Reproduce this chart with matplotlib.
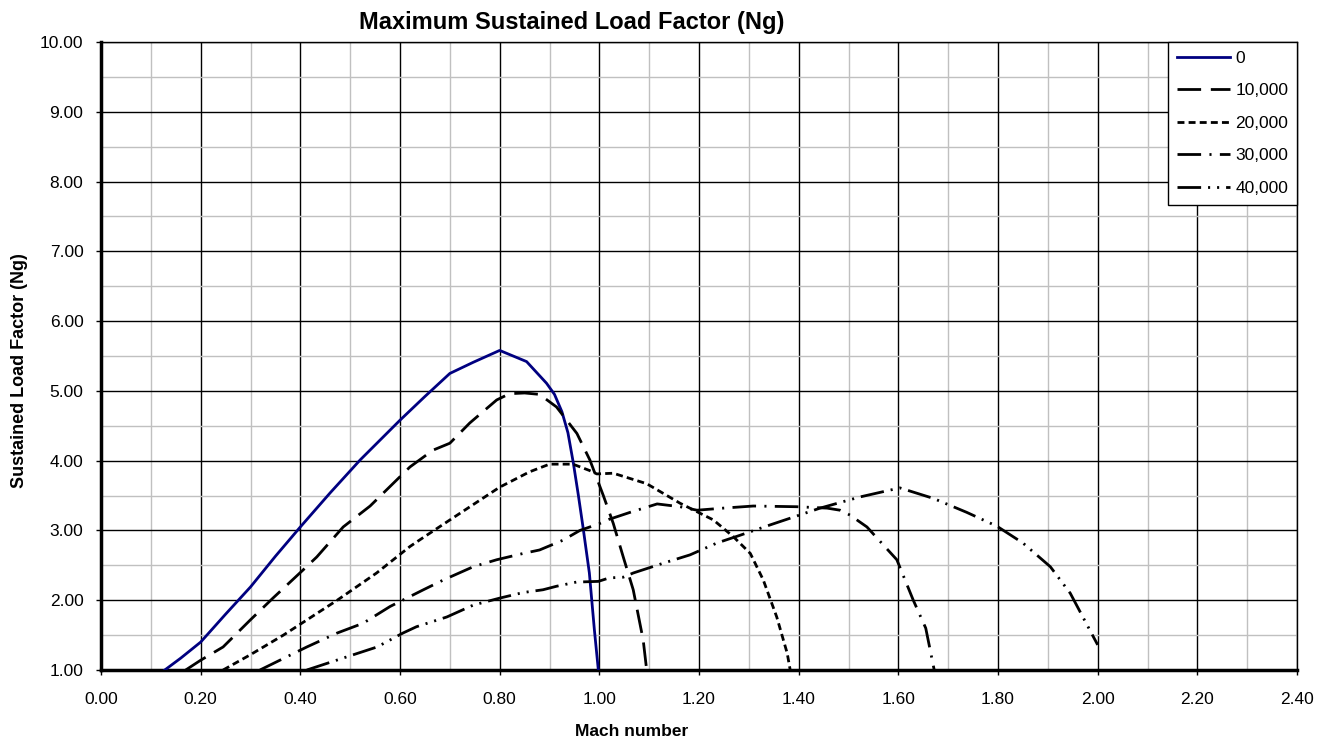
import matplotlib
matplotlib.use("Agg")
import matplotlib.pyplot as plt
from matplotlib.ticker import MultipleLocator, FormatStrFormatter

plt.rcParams['font.family'] = ['Liberation Sans', 'DejaVu Sans']
plt.rcParams['lines.scale_dashes'] = False

# Data (Mach number, sustained load factor) per altitude
labels = ["0", "10,000", "20,000", "30,000", "40,000"]

mach_0 = [0.128, 0.16, 0.2, 0.25, 0.3, 0.35, 0.4, 0.46, 0.52, 0.6, 0.65, 0.7, 0.747, 0.8,
          0.854, 0.894, 0.91, 0.925, 0.937, 0.948, 0.958, 0.967, 0.98, 0.99, 0.998]
ng_0 = [1.0, 1.17, 1.40, 1.80, 2.19, 2.63, 3.05, 3.54, 4.01, 4.58, 4.92, 5.25, 5.41, 5.58,
        5.42, 5.11, 4.95, 4.7, 4.4, 3.96, 3.5, 3.06, 2.39, 1.58, 1.0]

mach_10k = [0.17, 0.2, 0.245, 0.3, 0.345, 0.405, 0.433, 0.486, 0.54, 0.58, 0.62, 0.666, 0.7,
            0.74, 0.794, 0.82, 0.85, 0.88, 0.914, 0.955, 0.981, 1.008, 1.028, 1.048, 1.068,
            1.088, 1.095]
ng_10k = [1.0, 1.14, 1.33, 1.72, 2.03, 2.43, 2.62, 3.05, 3.35, 3.63, 3.91, 4.15, 4.25,
          4.54, 4.87, 4.96, 4.97, 4.95, 4.77, 4.39, 4.01, 3.5, 3.10, 2.62, 2.15,
          1.43, 1.0]

mach_20k = [0.245, 0.3, 0.366, 0.405, 0.474, 0.553, 0.62, 0.647, 0.7, 0.8, 0.86, 0.9, 0.947,
            0.98, 0.995, 1.028, 1.095, 1.162, 1.229, 1.269, 1.303, 1.329, 1.356, 1.377, 1.383]
ng_20k = [1.0, 1.22, 1.5, 1.68, 2.0, 2.39, 2.77, 2.9, 3.15, 3.62, 3.84, 3.95, 3.95,
          3.86, 3.81, 3.82, 3.67, 3.39, 3.15, 2.91, 2.67, 2.29, 1.76, 1.24, 1.0]

mach_30k = [0.319, 0.413, 0.474, 0.526, 0.58, 0.647, 0.687, 0.747, 0.794, 0.847, 0.88, 0.927,
            0.961, 1.001, 1.02, 1.062, 1.116, 1.162, 1.196, 1.249, 1.309, 1.396, 1.457, 1.483,
            1.503, 1.537, 1.597, 1.63, 1.655, 1.672]
ng_30k = [1.0, 1.33, 1.53, 1.67, 1.91, 2.15, 2.29, 2.48, 2.58, 2.67, 2.72, 2.86,
          3.0, 3.1, 3.16, 3.26, 3.38, 3.34, 3.29, 3.32, 3.35, 3.34, 3.32, 3.29,
          3.22, 3.05, 2.58, 2.0, 1.6, 1.0]

mach_40k = [0.413, 0.494, 0.554, 0.606, 0.633, 0.694, 0.747, 0.8, 0.847, 0.887, 0.914, 0.954,
            0.998, 1.02, 1.048, 1.068, 1.128, 1.182, 1.236, 1.282, 1.343, 1.389, 1.443, 1.523,
            1.603, 1.67, 1.737, 1.798, 1.85, 1.905, 1.945, 2.0]
ng_40k = [1.0, 1.19, 1.33, 1.53, 1.62, 1.76, 1.93, 2.03, 2.11, 2.15, 2.2, 2.26,
          2.27, 2.32, 2.33, 2.39, 2.53, 2.65, 2.82, 2.93, 3.08, 3.19, 3.32, 3.48,
          3.61, 3.46, 3.26, 3.06, 2.82, 2.48, 2.10, 1.36]

W, H = 1329, 740
fig = plt.figure(figsize=(W/100, H/100), dpi=100)
ax = fig.add_axes([101/W, 1-670/H, (1297-101)/W, (670-42)/H])

ax.set_xlim(0, 2.4)
ax.set_ylim(1, 10)
ax.xaxis.set_major_locator(MultipleLocator(0.2))
ax.xaxis.set_minor_locator(MultipleLocator(0.1))
ax.yaxis.set_major_locator(MultipleLocator(1.0))
ax.yaxis.set_minor_locator(MultipleLocator(0.5))
ax.xaxis.set_major_formatter(FormatStrFormatter('%.2f'))
ax.yaxis.set_major_formatter(FormatStrFormatter('%.2f'))

ax.grid(which='minor', color='#c0c0c0', lw=1.0, zorder=0)
ax.grid(which='major', color='black', lw=1.0, zorder=1)
ax.set_axisbelow(True)
ax.tick_params(which='minor', length=0)
ax.tick_params(which='major', direction='out', length=3.6, width=1, labelsize=12.5)
ax.tick_params(axis='x', pad=12.5)
ax.tick_params(axis='y', pad=9)

for side in ['top', 'right']:
    ax.spines[side].set_linewidth(1.0)
for side in ['left', 'bottom']:
    ax.spines[side].set_linewidth(2.5)

lw = 2.0
ax.plot(mach_0, ng_0, color='#000080', lw=lw, label=labels[0], zorder=5)
ax.plot(mach_10k, ng_10k, color='black', lw=lw, linestyle=(0, (17, 7)), label=labels[1], zorder=5)
ax.plot(mach_20k, ng_20k, color='black', lw=lw, linestyle=(0, (5, 3)), label=labels[2], zorder=5)
ax.plot(mach_30k, ng_30k, color='black', lw=lw, linestyle=(0, (17, 6, 1.5, 6)), label=labels[3], zorder=5)
ax.plot(mach_40k, ng_40k, color='black', lw=lw, linestyle=(0, (17, 5, 1.5, 5, 1.5, 5)), label=labels[4], zorder=5)

leg = ax.legend(loc='upper right', fontsize=12.5, frameon=True, fancybox=False,
                borderaxespad=0.0, handlelength=3.05, labelspacing=1.0,
                handletextpad=0.3, borderpad=0.5)
leg.get_frame().set_edgecolor('black')
leg.get_frame().set_linewidth(1.0)
leg.get_frame().set_alpha(1.0)
leg.set_zorder(10)

fig.text(572/W, 1-28.5/H, "Maximum Sustained Load Factor (Ng)", ha='center', va='baseline',
         fontsize=17, fontweight='bold')
fig.text(632/W, 1-736/H, "Mach number", ha='center', va='baseline',
         fontsize=12.5, fontweight='bold')
fig.text(20/W, 1-371/H, "Sustained Load Factor (Ng)", ha='center', va='center',
         fontsize=13, fontweight='bold', rotation=90)

fig.savefig("out.png", dpi=100)
